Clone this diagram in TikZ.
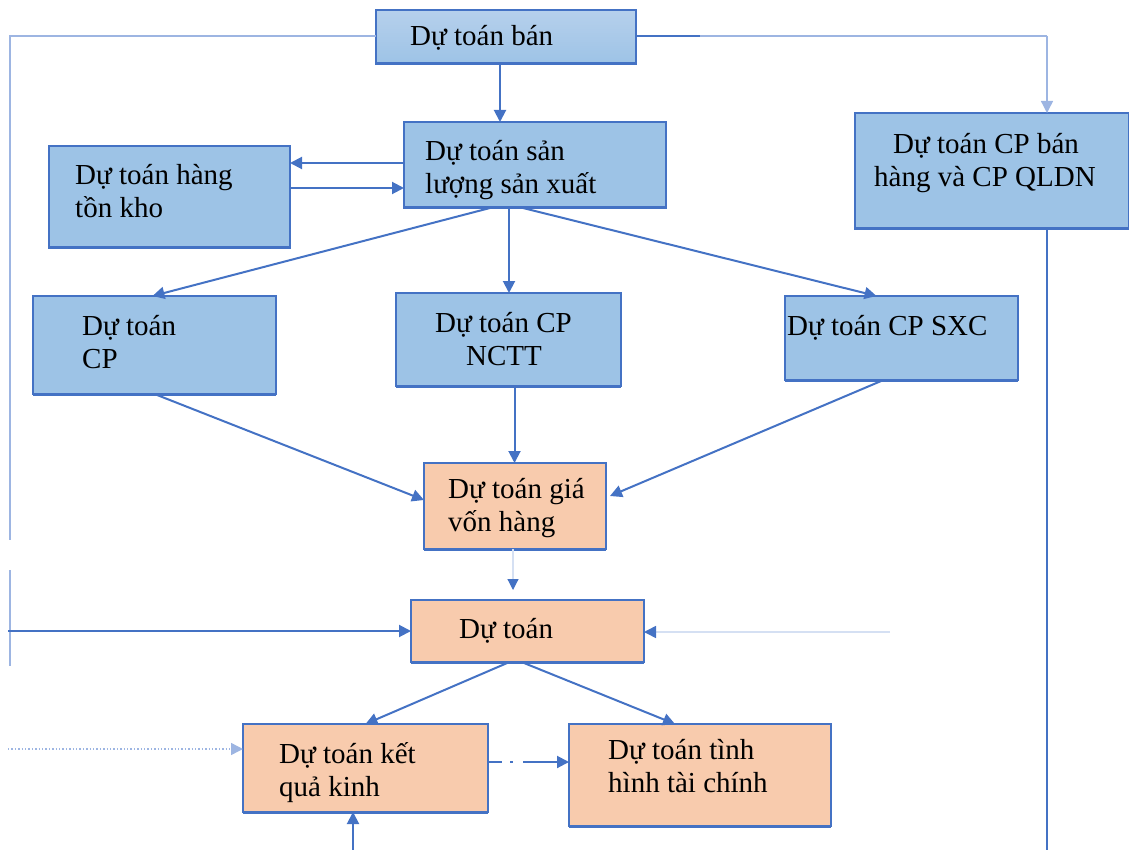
\documentclass[tikz,border=0pt]{standalone}
\usepackage{fontspec}
\setmainfont{Liberation Serif}
\usetikzlibrary{arrows.meta,calc}
\definecolor{boxblue}{HTML}{9DC3E6}
\definecolor{boxbluetop}{HTML}{B6D0EC}
\definecolor{boxpeach}{HTML}{F8CBAD}
\definecolor{edge}{HTML}{4472C4}
\definecolor{faint}{HTML}{9DB5E2}
\definecolor{pale}{HTML}{D5E0F3}

\begin{document}
\begin{tikzpicture}[x=1pt,y=-1pt,
  box/.style={draw=edge, line width=1.5pt, inner sep=0pt, outer sep=0pt, rectangle},
  bluebox/.style={box, fill=boxblue},
  peachbox/.style={box, fill=boxpeach},
  lbl/.style={anchor=base west, inner sep=0pt, align=left, font=\fontsize{29}{33}\selectfont},
  tip/.style={-{Triangle[width=12pt,length=12pt]}},
  arr/.style={draw=edge, line width=2pt, tip},
  thin/.style={draw=edge, line width=1.6pt},
  faintline/.style={draw=faint, line width=1.4pt},
  boxedge/.style={draw=edge, line width=3pt}
]
\useasboundingbox (0,0) rectangle (1129,850);

% ---------- boxes ----------
\node[box, top color=boxbluetop, bottom color=boxblue, minimum width=260, minimum height=54] (ban) at (506,37) {};
\node[bluebox, minimum width=262, minimum height=86]  (sl) at (535,165) {};
\node[bluebox, minimum width=241, minimum height=102] (tk) at (169.5,197) {};
\node[bluebox, minimum width=274, minimum height=116] (bh) at (992,171) {};
\node[bluebox, minimum width=243, minimum height=98]  (cp) at (154.5,345) {};
\node[bluebox, minimum width=225, minimum height=93]  (nc) at (508.5,339.5) {};
\node[bluebox, minimum width=233, minimum height=84]  (sx) at (901.5,338) {};
\node[peachbox, minimum width=182, minimum height=86] (gv) at (515,506) {};
\node[peachbox, minimum width=233, minimum height=62] (dt) at (527.5,631) {};
\node[peachbox, minimum width=245, minimum height=88] (kq) at (365.5,768) {};
\node[peachbox, minimum width=262, minimum height=102] (tc) at (700,775) {};

% heavier lower edges
\foreach \b in {ban,sl,tk,bh,cp,nc,sx,gv,dt,kq,tc}
  \draw[boxedge] (\b.south west) -- (\b.south east);

% ---------- labels (y = baseline of the last line) ----------
\node[lbl] (tban) at (410,46)  {Dự toán bán};
\node[lbl] (tsl)  at (425,194) {Dự toán sản\\lượng sản xuất};
\node[lbl] (ttk)  at (75,218)  {Dự toán hàng\\tồn kho};
\node[lbl] (tbh)  at (874,187) {\hspace*{19pt}Dự toán CP bán\\hàng và CP QLDN};
\node[lbl] (tcp)  at (82,368)  {Dự toán\\CP};
\node[lbl] (tnc)  at (435,365) {Dự toán CP\\\hspace*{31pt}NCTT};
\node[lbl] (tsx)  at (787,335) {Dự toán CP SXC};
\node[lbl] (tgv)  at (448,531) {Dự toán giá\\vốn hàng};
\node[lbl] (tdt)  at (459,638) {Dự toán};
\node[lbl] (tkq)  at (279,796) {Dự toán kết\\quả kinh};
\node[lbl] (ttc)  at (608,792) {Dự toán tình\\hình tài chính};

% ---------- free ends ----------
\coordinate (lt) at (10,36);
\coordinate (lb) at (10,666);
\coordinate (rt) at (1047,36);
\coordinate (rb) at (1047,850);
\coordinate (inL) at (8,631);
\coordinate (inK) at (8,749);
\coordinate (inR) at (890,632);
\coordinate (inB) at (353,850);

% ---------- outer loop lines ----------
\draw[faintline] (ban.west |- lt) -- (lt) -- (10,540);
\draw[faintline] (10,570) -- (lb);
\draw[thin] (ban.east |- rt) -- (700,36);
\draw[faintline] (700,36) -- (rt);
\draw[faintline, tip] (rt) -- (rt |- bh.north);
\draw[thin, line width=2pt] (rt |- bh.south) -- (rb);

% ---------- main flow ----------
\draw[arr] ([xshift=-6pt]ban.south) -- ([xshift=-6pt]ban.south |- sl.north);
\draw[arr] (sl.west |- 0,163) -- (tk.east |- 0,163);
\draw[arr] (tk.east |- 0,188) -- (sl.west |- 0,188);
\draw[arr] ([xshift=-45pt]sl.south) -- ([xshift=-2pt]cp.north);
\draw[arr] ([xshift=-26pt]sl.south) -- ([xshift=-26pt]sl.south |- nc.north);
\draw[arr] ([xshift=-12pt]sl.south) -- ([xshift=-25pt]sx.north);
\draw[arr] (cp.south) -- ([yshift=6pt]gv.west);
\draw[arr] ([xshift=6pt]nc.south) -- ([xshift=6pt]nc.south |- gv.north);
\draw[arr] ([xshift=-18pt]sx.south) -- ([yshift=10pt,xshift=4pt]gv.east);
\draw[draw=pale, line width=1.2pt, -{Triangle[width=11pt,length=11pt,color=edge]}, shorten >=10pt]
  ([xshift=-2pt]gv.south) -- ([xshift=-2pt]gv.south |- dt.north);

% ---------- lower part ----------
\draw[arr] (inL) -- (inL -| dt.west);
\draw[faintline, tip, dotted] (inK) -- (inK -| kq.west);
\draw[draw=pale, line width=1.6pt, -{Triangle[width=12pt,length=12pt,color=edge]}] (inR) -- (inR -| dt.east);
\draw[arr] ([xshift=-18pt]dt.south) -- (kq.north);
\draw[arr] ([xshift=-6pt]dt.south) -- ([xshift=-25pt]tc.north);
\draw[arr, dash pattern=on 14pt off 8pt on 3pt off 10pt on 60pt] (kq.east |- 0,762) -- (tc.west |- 0,762);
\draw[arr] (inB) -- (inB |- kq.south);
\end{tikzpicture}
\end{document}
